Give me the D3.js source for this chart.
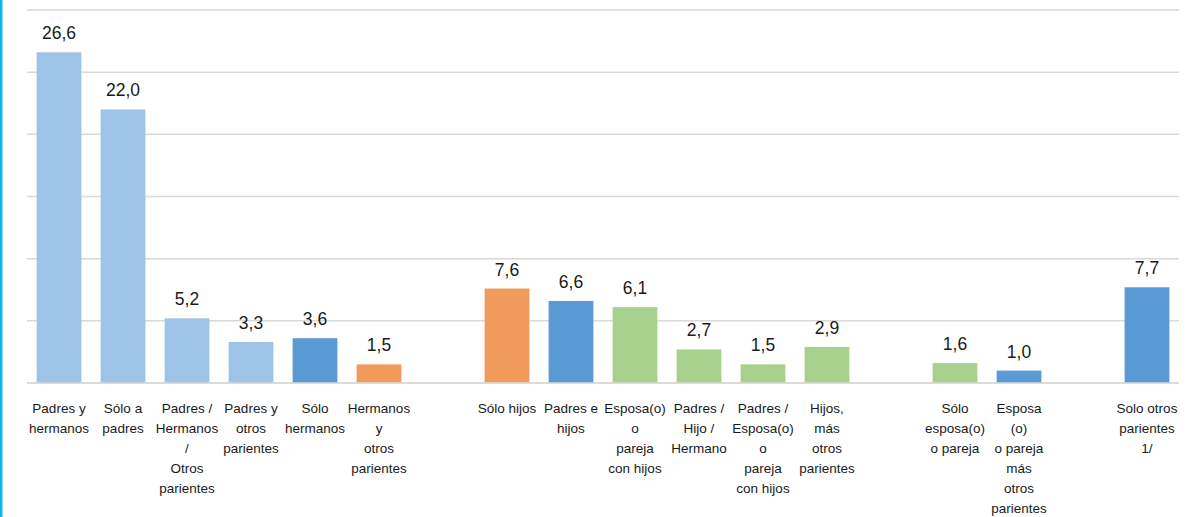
<!DOCTYPE html>
<html><head><meta charset="utf-8">
<script src="https://cdn.jsdelivr.net/npm/d3@7"></script>
<style>
html,body{margin:0;padding:0;background:#fff;}
svg{display:block;}
</style></head>
<body>
<script>
// Categories (with blank separators between groups)
const categories = [
  "Padres y|hermanos", "Sólo a|padres", "Padres /|Hermanos|/|Otros|parientes", "Padres y|otros|parientes",
  "Sólo|hermanos", "Hermanos|y|otros|parientes", "", "Sólo hijos", "Padres e|hijos",
  "Esposa(o)|o|pareja|con hijos", "Padres /|Hijo /|Hermano", "Padres /|Esposa(o)|o|pareja|con hijos",
  "Hijos,|más|otros|parientes", " ", "Sólo|esposa(o)|o pareja", "Esposa|(o)|o pareja|más|otros|parientes",
  "  ", "Solo otros|parientes|1/"
];
const values = [26.6, 22.0, 5.2, 3.3, 3.6, 1.5, null, 7.6, 6.6, 6.1, 2.7, 1.5, 2.9, null, 1.6, 1.0, null, 7.7];
const colorKeys = ["light","light","light","light","mid","orange",null,"orange","mid","green","green","green","green",null,"green","mid",null,"mid"];
const yTicks = [0, 5, 10, 15, 20, 25, 30];

const palette = {light:"#9DC3E6", mid:"#5B9BD5", orange:"#F19B5C", green:"#A9D18E"};

const W = 1198, H = 517;
const svg = d3.select("body").append("svg").attr("width", W).attr("height", H);

const x = d3.scaleBand().domain(categories).range([27, 1179]).paddingInner(0.3).paddingOuter(0.15);
const y = d3.scaleLinear().domain([0, 30]).range([383, 10]);

// left border
svg.append("rect").attr("x", 0).attr("y", 0).attr("width", 2.5).attr("height", H).attr("fill", "#14B2F0");

// gridlines
svg.append("g").selectAll("line").data(yTicks).join("line")
  .attr("x1", 27).attr("x2", 1179)
  .attr("y1", d => y(d)).attr("y2", d => y(d))
  .attr("stroke", "#D9D9D9").attr("stroke-width", 1.5);

const data = categories.map((c, i) => ({c, v: values[i], k: colorKeys[i]})).filter(d => d.v != null);

svg.append("g").selectAll("rect").data(data).join("rect")
  .attr("x", d => x(d.c)).attr("width", x.bandwidth())
  .attr("y", d => y(d.v)).attr("height", d => y(0) - y(d.v))
  .attr("fill", d => palette[d.k]);

// baseline redraw on top
svg.append("line").attr("x1", 27).attr("x2", 1179).attr("y1", y(0)).attr("y2", y(0))
  .attr("stroke", "#D9D9D9").attr("stroke-width", 1.5);

// value labels
svg.append("g").selectAll("text").data(data).join("text")
  .attr("x", d => x(d.c) + x.bandwidth() / 2)
  .attr("y", d => y(d.v) - 13)
  .attr("text-anchor", "middle")
  .attr("font-family", "Liberation Sans, Arial, sans-serif")
  .attr("font-size", 17.5)
  .attr("fill", "#1a1a1a")
  .text(d => d3.format(".1f")(d.v).replace(".", ","));

// category labels
const lab = svg.append("g").selectAll("text").data(categories.filter(c => c.trim() !== "")).join("text")
  .attr("x", d => x(d) + x.bandwidth() / 2)
  .attr("y", 413)
  .attr("text-anchor", "middle")
  .attr("font-family", "Liberation Sans, Arial, sans-serif")
  .attr("font-size", 13.5)
  .attr("fill", "#1a1a1a");
lab.each(function(d) {
  const t = d3.select(this);
  d.split("|").forEach((line, i) => {
    t.append("tspan").attr("x", x(d) + x.bandwidth() / 2).attr("y", 413 + i * 20).text(line);
  });
});
</script>
</body></html>
